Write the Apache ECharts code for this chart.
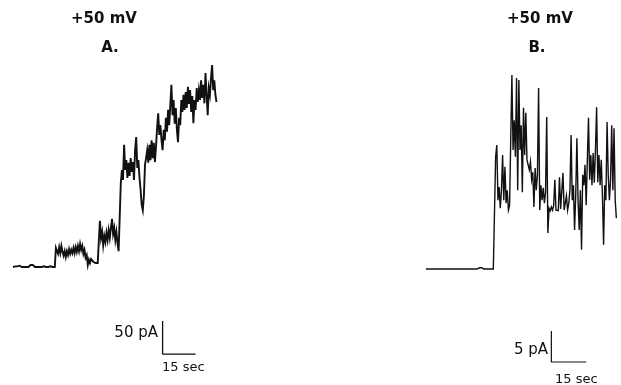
<!DOCTYPE html>
<html>
<head>
<meta charset="utf-8">
<script src="https://cdn.jsdelivr.net/npm/echarts@6/dist/echarts.min.js"></script>
<style>
  html, body { margin: 0; padding: 0; background: #fff; }
  #chart { width: 621px; height: 385px; }
</style>
</head>
<body>
<div id="chart"></div>
<script>
// Sampling interval of both current records (s)
const SAMPLE_SEC = 0.5;

// Record A, +50 mV: membrane current (pA), one value per sample
const currentA = [
  0, 0, 1, 0, 1, 3, 2, 0, 0, 0, 0, 1, 0, 0, 0, 2, 3, 5, 3, 1,
  0, 0, 0, 1, 0, 0, 0, 0, 1, 0, 0, 0, 0, 0, 1, 0, 0, 0, 0,
  29, 32, 20, 30, 21, 32, 23, 17, 24, 15, 24, 18, 27, 20, 26, 21, 29, 21, 30, 23,
  32, 24, 35, 26, 32, 20, 26, 14, 18, 3, 11, 6, 12, 14, 8, 9, 6, 9, 6, 8,
  70, 44, 53, 33, 47, 38, 52, 41, 56, 44, 59, 73, 50, 59, 41, 53, 36, 24, 27,
  127, 147, 132, 185, 147, 162, 135, 158, 138, 165, 144, 159, 132, 177, 197, 150, 162, 135, 117, 94, 86, 108,
  155, 165, 177, 158, 185, 162, 192, 165, 188, 159,
  182, 211, 233, 200, 215, 192, 177, 208, 192, 226,
  205, 238, 215, 245, 276, 230, 253, 217, 241, 208,
  189, 226, 215, 253, 235, 261, 238, 265, 241, 273,
  247, 268, 235, 259, 218, 253, 238, 271, 250, 268,
  253, 283, 256, 276, 248, 294, 261, 230, 271, 261,
  286, 306, 268, 283, 261, 250
];

// Record B, +50 mV: membrane current (pA), one value per sample
const currentB = [
  0, 0, 0, 0, 0, 0, 0, 0, 0, 0,
  0, 0, 0, 0, 0, 0, 0, 0, 0, 0,
  0, 0, 0, 0, 0, 0.2, 0, 0.2, 0, 0.2,
  0, 0, 0, 0, 0, 0, 0, 0, 0, 0,
  0, 0, 0, 0, 0, 0, 0.2, 0, 0.2, 0,
  0, 0, 0, 0, 0, 0, 0, 0, 0, 0,
  18.1, 20.0, 11.1, 13.2, 9.8, 12.7, 18.4, 11.1, 16.5, 10.6,
  12.7, 9.5, 10.2, 20.8, 31.3, 19.2, 24.0, 18.1, 30.8, 12.7,
  30.5, 19.2, 23.2, 12.4, 26.0, 18.4, 25.2, 17.6, 16.8, 16.0,
  17.3, 14.4, 15.6, 10.0, 16.3, 12.7, 15.2, 29.2, 9.5, 13.5,
  11.1, 13.1, 10.6, 12.4, 24.5, 5.8, 9.8, 9.4, 10.0, 9.5,
  10.2, 14.4, 9.5, 9.8, 9.4, 14.8, 9.7, 10.0, 15.5, 9.5,
  9.8, 11.8, 9.5, 10.6, 12.7, 21.6, 11.1, 13.5, 6.3, 11.9,
  21.1, 11.1, 6.3, 12.7, 3.1, 15.2, 13.5, 16.8, 10.3, 17.6,
  24.4, 14.4, 18.4, 13.5, 18.7, 13.9, 19.2, 26.1, 14.0, 18.4,
  13.5, 17.6, 11.9, 3.9, 13.5, 11.1, 23.7, 15.2, 11.1, 14.4,
  23.2, 12.7, 22.7, 11.1, 8.2
];

// Panel headings and scale-bar sizes
const panelLabels = ['A.', 'B.'];
const holdingLabels = ['+50 mV', '+50 mV'];
const scaleCurrent = [50, 5];   // pA
const scaleTime = [15, 15];     // s

const toXY = arr => arr.map((v, i) => [i * SAMPLE_SEC, v]);

// Scale bar as an L: vertical current bar then horizontal time bar
function scaleBar(t0, i0, pA, sec) {
  return [[t0, i0 + pA], [t0, i0], [t0 + sec, i0]];
}

const ink = '#111';
const chart = echarts.init(document.getElementById('chart'), null, { renderer: 'canvas' });

const lineBase = {
  type: 'line', showSymbol: false, symbol: 'none', animation: false,
  silent: true, clip: false
};

const textStyle = (text, align, font) => ({
  text, textAlign: align, textVerticalAlign: 'middle', font, fill: ink
});

chart.setOption({
  backgroundColor: '#fff',
  animation: false,
  grid: [
    { left: 13, top: 55.8, width: 220, height: 303.6 },
    { left: 426, top: 70.6, width: 196, height: 303.8 }
  ],
  xAxis: [
    { type: 'value', gridIndex: 0, min: 0, max: 100, show: false },
    { type: 'value', gridIndex: 1, min: 0, max: 84, show: false }
  ],
  yAxis: [
    { type: 'value', gridIndex: 0, min: -140, max: 320, show: false },
    { type: 'value', gridIndex: 1, min: -17, max: 32, show: false }
  ],
  series: [
    Object.assign({}, lineBase, {
      name: 'A', xAxisIndex: 0, yAxisIndex: 0,
      data: toXY(currentA),
      lineStyle: { color: ink, width: 1.9, join: 'miter' }
    }),
    Object.assign({}, lineBase, {
      name: 'B', xAxisIndex: 1, yAxisIndex: 1,
      data: toXY(currentB),
      lineStyle: { color: ink, width: 1.4, join: 'miter' }
    }),
    Object.assign({}, lineBase, {
      name: 'scaleA', xAxisIndex: 0, yAxisIndex: 0,
      data: scaleBar(68, -132, scaleCurrent[0], scaleTime[0]),
      lineStyle: { color: ink, width: 1.3 }
    }),
    Object.assign({}, lineBase, {
      name: 'scaleB', xAxisIndex: 1, yAxisIndex: 1,
      data: scaleBar(54, -15, scaleCurrent[1], scaleTime[1]),
      lineStyle: { color: ink, width: 1.2 }
    })
  ],
  graphic: [
    { type: 'text', x: 104, y: 19, style: textStyle(holdingLabels[0], 'center', 'bold 15px "DejaVu Sans"') },
    { type: 'text', x: 110, y: 48, style: textStyle(panelLabels[0], 'center', 'bold 15px "DejaVu Sans"') },
    { type: 'text', x: 540, y: 19, style: textStyle(holdingLabels[1], 'center', 'bold 15px "DejaVu Sans"') },
    { type: 'text', x: 537, y: 48, style: textStyle(panelLabels[1], 'center', 'bold 15px "DejaVu Sans"') },
    { type: 'text', x: 158, y: 333, style: textStyle(scaleCurrent[0] + ' pA', 'right', '15px "DejaVu Sans"') },
    { type: 'text', x: 162, y: 368, style: textStyle(scaleTime[0] + ' sec', 'left', '13px "DejaVu Sans"') },
    { type: 'text', x: 548, y: 350, style: textStyle(scaleCurrent[1] + ' pA', 'right', '15px "DejaVu Sans"') },
    { type: 'text', x: 555, y: 380, style: textStyle(scaleTime[1] + ' sec', 'left', '13px "DejaVu Sans"') }
  ]
});
</script>
</body>
</html>
